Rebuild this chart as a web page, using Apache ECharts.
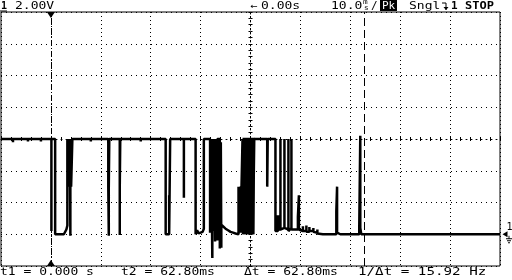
<!DOCTYPE html>
<html>
<head>
<meta charset="utf-8">
<script src="https://cdn.jsdelivr.net/npm/echarts@6/dist/echarts.min.js"></script>
<style>html,body{margin:0;padding:0;background:#fff;}#c{width:512px;height:280px;}</style>
</head>
<body>
<div id="c"></div>
<script>
// ---- data (time in ms relative to cursor t1, voltage in V) ----
const trace = [
 [-10,6.0],[-7.6,6.0],[-7.6,5.8],[-7.6,6.0],[-4.6,6.0],[-4.6,5.85],[-4.6,6.0],[-2.0,6.0],[-2.0,5.85],[-2.0,6.0],
 [0.1,6.0],[0.1,0.2],[0.1,6.0],[0.85,6.0],[0.85,0.0],
 [2.6,0.0],[2.8,0.1],[3.1,0.3],[3.3,0.55],
 [3.3,3.0],[3.3,6.0],[3.55,6.0],[3.55,3.0],[3.8,3.0],[3.8,6.0],[3.9,6.0],[3.9,-0.1],[3.9,6.0],[4.05,6.0],[4.05,3.0],[4.3,3.0],[4.3,6.0],
 [8.0,6.0],[8.0,5.85],[8.0,6.0],
 [11.5,6.0],[11.5,3.0],[11.6,3.0],[11.6,-0.1],[11.6,3.0],[11.7,3.0],[11.7,6.0],
 [13.8,6.0],[13.8,-0.05],[13.8,3.0],[13.9,3.0],[13.9,6.0],
 [18.0,6.0],[18.0,5.85],[18.0,6.0],
 [23.0,6.0],[23.0,0.0],[23.7,0.0],[23.7,2.45],[23.7,0.05],[23.9,0.05],[23.9,6.0],
 [26.65,6.0],[26.65,2.3],[26.65,6.0],
 [29.0,6.0],[29.0,0.0],[29.3,0.25],[29.6,0.05],[30.0,0.1],[30.4,0.15],[30.65,0.35],[30.65,6.0],
 [31.9,6.0],[31.9,0.1],[32.1,0.1],[32.1,6.0],[32.35,6.0],[32.35,-1.5],[32.35,6.0],[32.6,6.0],[32.6,0.2],[32.7,0.2],[32.7,6.0],
 [32.9,6.0],[32.9,-0.45],[33.0,-0.45],[33.0,6.0],[33.35,6.0],[33.35,-0.4],[33.35,6.0],
 [33.85,6.0],[33.85,-0.9],[34.05,-0.9],[34.05,5.8],[34.15,5.8],[34.15,-0.85],[34.15,0.6],
 [34.5,0.5],[35.0,0.35],[35.5,0.25],[36.0,0.15],[36.5,0.1],[37.0,0.05],[37.6,0.0],
 [37.6,3.0],[37.6,0.05],[38.0,0.1],[38.0,3.0],[38.0,0.1],[38.4,0.1],[38.4,6.0],
 [38.5,6.0],[38.5,0.0],[38.75,0.0],[38.75,6.0],[39.0,6.0],[39.0,0.0],[39.25,0.0],[39.25,6.0],[39.5,6.0],[39.5,0.0],
 [39.75,0.0],[39.75,6.0],[40.0,6.0],[40.0,0.0],[40.25,0.0],[40.25,6.0],[40.5,6.0],[40.5,0.0],[40.75,0.0],[40.75,6.0],
 [43.35,6.0],[43.35,3.0],[43.45,3.0],[43.45,6.0],
 [45.0,6.0],[45.0,0.2],[45.5,0.2],[45.5,1.2],[45.5,0.3],[46.0,0.3],[46.0,6.0],[46.0,0.3],[46.8,0.4],[46.8,6.0],[46.8,0.4],
 [47.6,0.3],[47.6,6.0],[47.6,0.2],[48.2,0.4],[48.2,6.0],[48.2,0.3],[49.0,0.3],
 [49.5,0.3],[49.5,1.1],[49.7,1.1],[49.7,2.45],[49.7,0.3],[50.0,0.2],
 [50.5,0.2],[50.5,0.5],[50.5,0.2],[51.2,0.2],[51.2,0.55],[51.2,0.15],[51.8,0.15],[51.8,0.45],[51.8,0.2],
 [52.6,0.2],[52.6,0.4],[52.6,0.15],[53.4,0.1],[53.4,0.3],[53.4,0.05],[54.5,0.0],
 [57.2,0.0],[57.2,1.45],[57.35,1.45],[57.35,3.0],[57.35,0.1],[58.0,0.0],
 [61.8,0.0],[61.8,0.6],[62.0,0.6],[62.0,6.2],[62.0,0.4],[62.2,0.4],[62.2,0.0],
 [70.0,0.0],[70.0,-0.1],[70.0,0.0],[78.0,0.0],[78.0,0.1],[78.0,0.0],[86.0,0.0],[86.0,0.1],[86.0,0.0],
 [90.0,0.0]
];
// dense burst of transitions (drawn as a filled envelope from 0 V up to the high level)
const burstBand = [[38.4, 6.0], [40.8, 6.0]];
const cursorT1 = 0;        // ms
const cursorT2 = 62.8;     // ms
const groundLevel = 0;     // V
const timeRange = [-10, 90];   // ms, 10 ms/div
const voltRange = [-2, 14];    // V, 2 V/div
const topLabels = {ch: '1', scale: '2.00V', delay: '0.00s', timebase: '10.0', mode: 'Pk', trig: 'Sngl', trigCh: '1', run: 'STOP'};
const bottomLabels = ['t1 = 0.000 s', 't2 = 62.80ms', '\u0394t = 62.80ms', '1/\u0394t = 15.92 Hz'];

// ---- chart ----
const chart = echarts.init(document.getElementById('c'), null, {renderer: 'canvas'});
const FONT = '"DejaVu Sans Mono", monospace';
function txt(str, x, y, o) {
  o = o || {};
  return {type: 'text', x: x, y: y, scaleX: o.sx || 1.3, z: 100,
    style: {text: str, fill: o.fill || '#000', font: (o.bold ? 'bold ' : '') + (o.size || 10) + 'px ' + FONT,
      textAlign: 'left', textVerticalAlign: 'top'}};
}
const dotX = {color: '#000', width: 1, type: [1, 3]};
const dotY = {color: '#000', width: 1, type: [1, 4]};
const option = {
  animation: false,
  backgroundColor: '#fff',
  grid: {left: 1, top: 12, width: 499, height: 254, show: true, borderColor: '#000', borderWidth: 1, backgroundColor: 'transparent'},
  xAxis: [
    {type: 'value', min: timeRange[0], max: timeRange[1], interval: 10, position: 'bottom',
      axisLine: {show: false}, axisTick: {show: false}, axisLabel: {show: false},
      splitLine: {show: true, lineStyle: dotX}},
    {type: 'value', min: timeRange[0], max: timeRange[1], interval: 2, position: 'bottom',
      axisLine: {show: true, onZero: true, onZeroAxisIndex: 1, lineStyle: dotY},
      axisTick: {show: true, length: 2, lineStyle: {color: '#000', width: 1}},
      axisLabel: {show: false}, splitLine: {show: false}},
    {type: 'value', min: -5, max: 5, show: false, splitLine: {show: false}},
    {type: 'value', min: timeRange[0], max: timeRange[1], interval: 2, position: 'top',
      axisLine: {show: false, onZero: true, onZeroAxisIndex: 1},
      axisTick: {show: true, length: 2, lineStyle: {color: '#000', width: 1}},
      axisLabel: {show: false}, splitLine: {show: false}}
  ],
  yAxis: [
    {type: 'value', min: voltRange[0], max: voltRange[1], interval: 2,
      axisLine: {show: false}, axisTick: {show: false}, axisLabel: {show: false},
      splitLine: {show: true, lineStyle: dotY}},
    {type: 'value', min: -4, max: 4, interval: 0.2, position: 'left',
      axisLine: {show: true, onZero: true, onZeroAxisIndex: 2, lineStyle: dotX},
      axisTick: {show: true, length: 2, lineStyle: {color: '#000', width: 1}},
      axisLabel: {show: false}, splitLine: {show: false}},
    {type: 'value', min: -4, max: 4, interval: 0.2, position: 'right',
      axisLine: {show: false, onZero: true, onZeroAxisIndex: 2},
      axisTick: {show: true, length: 2, lineStyle: {color: '#000', width: 1}},
      axisLabel: {show: false}, splitLine: {show: false}}
  ],
  series: [{
    type: 'line', xAxisIndex: 0, yAxisIndex: 0, data: trace, showSymbol: false, symbol: 'none',
    sampling: null, clip: true, silent: true,
    lineStyle: {color: '#000', width: 2.5, join: 'bevel', cap: 'butt'},
    markLine: {
      silent: true, symbol: 'none', label: {show: false}, animation: false,
      data: [
        {xAxis: cursorT1, lineStyle: {color: '#000', width: 1, type: [6, 2, 1, 2]}},
        {xAxis: cursorT2, lineStyle: {color: '#000', width: 1, type: [8, 4]}}
      ]
    },
    markPoint: {
      silent: true, animation: false,
      data: [
        {coord: [cursorT1, voltRange[1]], symbol: 'triangle', symbolRotate: 180, symbolSize: [8, 6], symbolOffset: [0, 3], itemStyle: {color: '#000'}, label: {show: false}},
        {coord: [cursorT1, voltRange[0]], symbol: 'triangle', symbolSize: [8, 6], symbolOffset: [0, -3], itemStyle: {color: '#000'}, label: {show: false}},
        {coord: [timeRange[1], groundLevel], symbol: 'triangle', symbolRotate: 90, symbolSize: [6, 5], symbolOffset: [5, 0], itemStyle: {color: '#000'},
          label: {show: true, formatter: '1', position: [4, -9], color: '#000', fontSize: 10, fontFamily: FONT}},
        {coord: [timeRange[1], groundLevel], symbol: 'path://M3,0 L3,3 M0,3 L6,3 M1,5 L5,5 M2,7 L4,7', symbolSize: [6, 7], symbolOffset: [9, 5],
          itemStyle: {color: 'none', borderColor: '#000', borderWidth: 1}, label: {show: false}}
      ]
    }
  }, {
    type: 'line', xAxisIndex: 0, yAxisIndex: 0, data: burstBand, showSymbol: false, symbol: 'none',
    silent: true, lineStyle: {color: '#000', width: 2.5}, areaStyle: {color: '#000', opacity: 1, origin: 'auto'}
  }],
  graphic: [
    txt(topLabels.ch, 1, 1, {bold: true, sx: 1.0}),
    {type: 'line', shape: {x1: 0, y1: 11, x2: 7, y2: 11}, style: {stroke: '#000', lineWidth: 1}, z: 100},
    txt(topLabels.scale, 15, 1),
    txt('\u2190', 250, 1, {sx: 1.2}),
    txt(topLabels.delay, 261, 1),
    txt(topLabels.timebase, 331, 1),
    txt('m', 363, -1, {size: 7, sx: 1.1}),
    txt('s', 364, 5, {size: 7, sx: 1.1}),
    txt('/', 371, 1, {sx: 1.1}),
    {type: 'rect', shape: {x: 380, y: 0, width: 17, height: 11}, style: {fill: '#000'}, z: 99},
    txt(topLabels.mode, 382, 1, {fill: '#fff', sx: 1.1}),
    txt(topLabels.trig, 409, 1),
    {type: 'polyline', shape: {points: [[442, 3], [446, 3], [446, 10]]}, style: {stroke: '#000', fill: null, lineWidth: 1}, z: 100},
    {type: 'polygon', shape: {points: [[443.5, 7], [448.5, 7], [446, 10]]}, style: {fill: '#000'}, z: 100},
    txt(topLabels.trigCh, 451, 1, {bold: true, sx: 1.1}),
    txt(topLabels.run, 465, 1, {bold: true, sx: 1.2}),
    txt(bottomLabels[0], 0, 267),
    txt(bottomLabels[1], 121, 267),
    txt(bottomLabels[2], 244, 267),
    txt(bottomLabels[3], 358, 267, {sx: 1.42})
  ]
};
chart.setOption(option);
</script>
</body>
</html>
